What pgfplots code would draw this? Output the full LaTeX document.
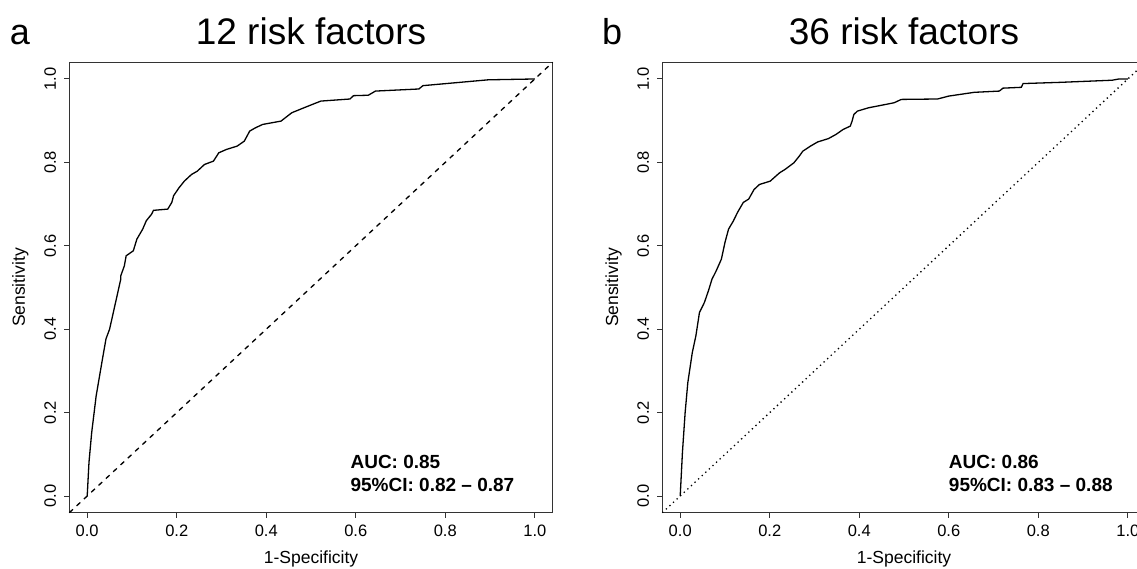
\documentclass[border=0pt]{standalone}
\usepackage{fontspec}
\setmainfont{Liberation Sans}
\usepackage{pgfplots}
\pgfplotsset{compat=1.18}

\pgfplotsset{rocax/.style={
  scale only axis, width=483.4pt, height=450.4pt,
  anchor=south west, clip=false,
  xmin=-0.04, xmax=1.04, ymin=-0.04, ymax=1.04,
  xtick={0,0.2,0.4,0.6,0.8,1}, ytick={0,0.2,0.4,0.6,0.8,1},
  xticklabels={0.0,0.2,0.4,0.6,0.8,1.0},
  yticklabels={0.0,0.2,0.4,0.6,0.8,1.0},
  tick align=outside, major tick length=5pt,
  xtick pos=bottom, ytick pos=left,
  axis line style={line width=1.3pt, black!80},
  every tick/.style={black!80, line width=1pt},
  tick label style={font=\fontsize{16.5}{16.5}\selectfont, inner sep=0pt},
  xticklabel style={anchor=north},
  yticklabel style={rotate=90, anchor=south},
  xticklabel shift=7pt,
  yticklabel shift=8pt,
  every axis title/.style={at={(axis description cs:0.5,1)}, anchor=base, yshift=17.3pt, inner sep=0pt, font=\fontsize{37}{37}\selectfont},
  every axis x label/.style={at={(axis description cs:0.5,0)}, anchor=base, yshift=-51pt, inner sep=0pt, font=\fontsize{17.5}{17.5}\selectfont},
  every axis y label/.style={at={(axis description cs:0,0.5)}, xshift=-44.3pt, rotate=90, anchor=base, inner sep=0pt, font=\fontsize{17.5}{17.5}\selectfont},
  xlabel={1-Specificity}, ylabel={Sensitivity},
}}

\begin{document}
\begin{tikzpicture}
\path[use as bounding box] (0,0) rectangle (1137pt,568pt);

\begin{axis}[rocax, at={(69.3pt,55.3pt)}, title={12 risk factors}]
\addplot[black, line width=1.3pt, dash pattern=on 5pt off 5pt] coordinates {(-0.04,-0.04) (1.04,1.04)};
\addplot[black, line width=1.3pt] coordinates {
(0,0) (0.004,0.081) (0.01,0.152) (0.02,0.24) (0.034,0.328) (0.042,0.377) (0.05,0.4)
(0.065,0.472) (0.075,0.52) (0.075,0.528) (0.083,0.552) (0.087,0.576) (0.103,0.588)
(0.111,0.616) (0.124,0.64) (0.132,0.66) (0.144,0.676) (0.148,0.685) (0.18,0.688)
(0.189,0.704) (0.193,0.72) (0.205,0.739) (0.217,0.755) (0.233,0.771) (0.246,0.779)
(0.262,0.795) (0.282,0.803) (0.294,0.823) (0.311,0.831) (0.335,0.839) (0.351,0.851)
(0.363,0.875) (0.376,0.883) (0.392,0.891) (0.433,0.899) (0.457,0.919) (0.489,0.933)
(0.522,0.947) (0.587,0.952) (0.595,0.96) (0.628,0.961) (0.644,0.971) (0.741,0.976)
(0.75,0.984) (0.896,0.998) (1,1)};
\node[anchor=west, inner sep=0pt, font=\bfseries\fontsize{19}{19}\selectfont] at (axis cs:0.588,0.082) {AUC: 0.85};
\node[anchor=west, inner sep=0pt, font=\bfseries\fontsize{19}{19}\selectfont] at (axis cs:0.588,0.026) {95\%CI: 0.82 – 0.87};
\node[anchor=base, inner sep=0pt, font=\fontsize{36}{36}\selectfont] at (axis description cs:-0.102,1.0384) {a};
\end{axis}

\begin{axis}[rocax, at={(662.3pt,55.3pt)}, title={36 risk factors}]
\addplot[black, line width=1.3pt, dash pattern=on 1.3pt off 3.6pt] coordinates {(-0.04,-0.04) (1.04,1.04)};
\addplot[black, line width=1.3pt] coordinates {
(0,0) (0.005,0.105) (0.011,0.2) (0.017,0.272) (0.027,0.344) (0.035,0.384) (0.043,0.44)
(0.054,0.464) (0.063,0.492) (0.071,0.52) (0.08,0.539) (0.092,0.568) (0.1,0.608)
(0.108,0.64) (0.119,0.66) (0.128,0.68) (0.141,0.704) (0.153,0.712) (0.165,0.735)
(0.177,0.747) (0.201,0.755) (0.222,0.775) (0.234,0.783) (0.254,0.799) (0.266,0.815)
(0.274,0.827) (0.291,0.839) (0.307,0.849) (0.331,0.857) (0.348,0.867) (0.364,0.879)
(0.38,0.887) (0.384,0.899) (0.388,0.915) (0.396,0.923) (0.421,0.931) (0.445,0.936)
(0.478,0.943) (0.494,0.951) (0.575,0.952) (0.6,0.959) (0.657,0.968) (0.713,0.971)
(0.721,0.978) (0.762,0.98) (0.766,0.989) (0.851,0.992) (0.965,0.997) (0.98,1.0) (1,1)};
\node[anchor=west, inner sep=0pt, font=\bfseries\fontsize{19}{19}\selectfont] at (axis cs:0.6,0.082) {AUC: 0.86};
\node[anchor=west, inner sep=0pt, font=\bfseries\fontsize{19}{19}\selectfont] at (axis cs:0.6,0.026) {95\%CI: 0.83 – 0.88};
\node[anchor=base, inner sep=0pt, font=\fontsize{36}{36}\selectfont] at (axis description cs:-0.104,1.0384) {b};
\end{axis}
\end{tikzpicture}
\end{document}
